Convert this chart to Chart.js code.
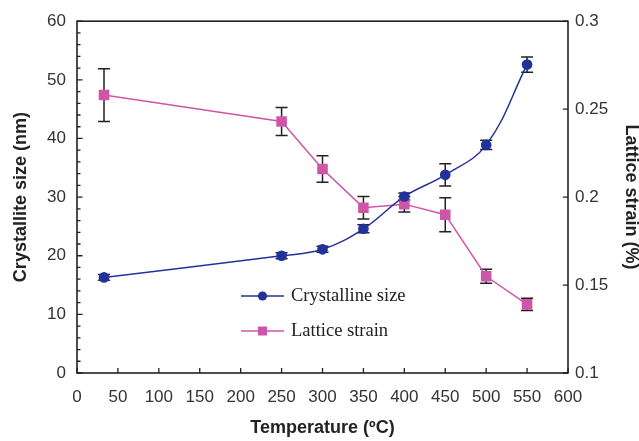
<!DOCTYPE html>
<html>
<head>
<meta charset="utf-8">
<script src="https://cdn.jsdelivr.net/npm/chart.js@4"></script>
<style>
  html, body { margin: 0; padding: 0; background: #fff; }
  #wrap { width: 639px; height: 441px; }
</style>
</head>
<body>
<div id="wrap"><canvas id="chart" width="639" height="441"></canvas></div>
<script>
// temperature (ºC)
const temps = [33, 250, 300, 350, 400, 450, 500, 550];
// crystallite size (nm) and its error
const sizeVals = [16.3, 20.0, 21.1, 24.6, 30.1, 33.8, 38.9, 52.6];
const sizeErr = [0.5, 0.5, 0.5, 0.7, 0.6, 1.9, 0.8, 1.3];
// lattice strain (%) and its error
const strainVals = [0.258, 0.243, 0.216, 0.194, 0.196, 0.190, 0.155, 0.139];
const strainErr = [0.015, 0.008, 0.0075, 0.0064, 0.0044, 0.0097, 0.004, 0.0035];

const xTicks = [0, 50, 100, 150, 200, 250, 300, 350, 400, 450, 500, 550, 600];
const leftTicks = [0, 10, 20, 30, 40, 50, 60];
const rightTicks = [0.1, 0.15, 0.2, 0.25, 0.3];

const blue = "#23329b";
const pink = "#d055a8";
const axisColor = "#222";

const toPoints = (xs, ys) => xs.map((x, i) => ({ x: x, y: ys[i] }));

// error bars, frame, inward ticks and legend drawn with the chart's scales
const extras = {
    id: "extras",
    beforeDatasetsDraw(chart) {
        const { ctx, scales } = chart;
        const bars = [
            { vals: sizeVals, err: sizeErr, axis: scales.y },
            { vals: strainVals, err: strainErr, axis: scales.y1 }
        ];
        ctx.save();
        ctx.strokeStyle = "#222";
        ctx.lineWidth = 1.5;
        bars.forEach(b => {
            temps.forEach((t, i) => {
                const px = scales.x.getPixelForValue(t);
                const top = b.axis.getPixelForValue(b.vals[i] + b.err[i]);
                const bot = b.axis.getPixelForValue(b.vals[i] - b.err[i]);
                ctx.beginPath();
                ctx.moveTo(px, top); ctx.lineTo(px, bot);
                ctx.moveTo(px - 6, top); ctx.lineTo(px + 6, top);
                ctx.moveTo(px - 6, bot); ctx.lineTo(px + 6, bot);
                ctx.stroke();
            });
        });
        ctx.restore();
    },
    afterDatasetsDraw(chart) {
        const { ctx, chartArea: a, scales } = chart;
        ctx.save();
        ctx.strokeStyle = axisColor;
        ctx.lineWidth = 1.6;
        ctx.strokeRect(a.left, a.top, a.right - a.left, a.bottom - a.top);
        ctx.lineWidth = 1.3;
        ctx.beginPath();
        xTicks.forEach(v => {
            const px = scales.x.getPixelForValue(v);
            ctx.moveTo(px, a.bottom); ctx.lineTo(px, a.bottom - 5);
        });
        for (let v = 0; v <= 60; v += 2) {
            const py = scales.y.getPixelForValue(v);
            const len = v % 10 === 0 ? 5.5 : 3.5;
            ctx.moveTo(a.left, py); ctx.lineTo(a.left + len, py);
        }
        rightTicks.forEach(v => {
            const py = scales.y1.getPixelForValue(v);
            ctx.moveTo(a.right, py); ctx.lineTo(a.right - 5, py);
        });
        ctx.stroke();

        // legend
        const items = chart.data.datasets;
        const lx = 241, ly = [296, 331];
        ctx.font = "18.5px 'Liberation Serif', 'Times New Roman', serif";
        ctx.textBaseline = "middle";
        ctx.fillStyle = "#222";
        items.forEach((ds, i) => {
            const y = ly[i];
            ctx.strokeStyle = ds.borderColor;
            ctx.lineWidth = 1.5;
            ctx.beginPath();
            ctx.moveTo(lx, y); ctx.lineTo(lx + 43, y);
            ctx.stroke();
            ctx.fillStyle = ds.pointBackgroundColor;
            ctx.beginPath();
            if (ds.pointStyle === "rect") {
                ctx.rect(lx + 21.5 - 4.5, y - 4.5, 9, 9);
            } else {
                ctx.arc(lx + 21.5, y, 4.6, 0, Math.PI * 2);
            }
            ctx.fill();
            ctx.fillStyle = "#222";
            ctx.fillText(ds.label, lx + 50, y);
        });
        ctx.restore();
    }
};

const tickFont = { family: "'Liberation Sans', Arial, sans-serif", size: 17 };
const titleFont = { family: "'Liberation Sans', Arial, sans-serif", size: 18, weight: "bold", lineHeight: 1 };

new Chart(document.getElementById("chart").getContext("2d"), {
    type: "line",
    data: {
        datasets: [
            {
                label: "Crystalline size",
                data: toPoints(temps, sizeVals),
                yAxisID: "y",
                borderColor: blue,
                backgroundColor: blue,
                pointBackgroundColor: blue,
                pointBorderColor: blue,
                pointStyle: "circle",
                pointRadius: 4.6,
                borderWidth: 1.5,
                tension: 0.4,
                fill: false
            },
            {
                label: "Lattice strain",
                data: toPoints(temps, strainVals),
                yAxisID: "y1",
                borderColor: pink,
                backgroundColor: pink,
                pointBackgroundColor: pink,
                pointBorderColor: pink,
                pointStyle: "rect",
                pointRadius: 6.4,
                borderWidth: 1.5,
                tension: 0,
                fill: false
            }
        ]
    },
    options: {
        responsive: false,
        animation: false,
        layout: { padding: { top: 19 } },
        plugins: { legend: { display: false }, tooltip: { enabled: false } },
        scales: {
            x: {
                type: "linear",
                position: "bottom",
                min: 0, max: 600,
                afterBuildTicks: s => { s.ticks = xTicks.map(v => ({ value: v })); },
                afterFit: s => { s.height = 68; },
                grid: { display: false, drawTicks: false },
                border: { display: false },
                ticks: { font: tickFont, color: "#333", padding: 14, maxRotation: 0, autoSkip: false },
                title: { display: true, text: "Temperature (ºC)", font: titleFont, color: "#222", padding: { top: 0, bottom: 4 } }
            },
            y: {
                position: "left",
                min: 0, max: 60,
                afterBuildTicks: s => { s.ticks = leftTicks.map(v => ({ value: v })); },
                afterFit: s => { s.width = 77; },
                grid: { display: false, drawTicks: false },
                border: { display: false },
                ticks: { font: tickFont, color: "#333", padding: 11, autoSkip: false },
                title: { display: true, text: "Crystallite size (nm)", font: titleFont, color: "#222", padding: { top: 12, bottom: 0 } }
            },
            y1: {
                position: "right",
                min: 0.1, max: 0.3,
                afterBuildTicks: s => { s.ticks = rightTicks.map(v => ({ value: v })); },
                afterFit: s => { s.width = 71; },
                grid: { display: false, drawTicks: false },
                border: { display: false },
                ticks: { font: tickFont, color: "#333", padding: 7, autoSkip: false, callback: v => String(+v.toFixed(2)) },
                title: { display: true, text: "Lattice strain (%)", font: titleFont, color: "#222", padding: { top: -1, bottom: 0 } }
            }
        }
    },
    plugins: [extras]
});
</script>
</body>
</html>
